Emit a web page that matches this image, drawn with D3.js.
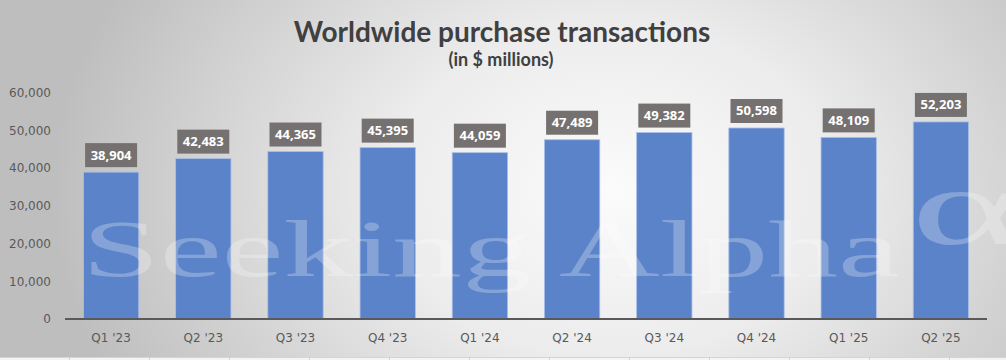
<!DOCTYPE html>
<html><head><meta charset="utf-8">
<script src="https://cdn.jsdelivr.net/npm/d3@7/dist/d3.min.js"></script>
<style>html,body{margin:0;padding:0;overflow:hidden;background:#fff}</style>
</head><body>
<svg id="c" width="1006" height="360"></svg>
<script>
const categories = ["Q1 '23","Q2 '23","Q3 '23","Q4 '23","Q1 '24","Q2 '24","Q3 '24","Q4 '24","Q1 '25","Q2 '25"];
const values = [38904,42483,44365,45395,44059,47489,49382,50598,48109,52203];
const yTicks = [0,10000,20000,30000,40000,50000,60000];
const title = "Worldwide purchase transactions";
const subtitle = "(in $ millions)";

const W = 1006, H = 360;
const svg = d3.select("#c");
const defs = svg.append("defs");
const g = defs.append("radialGradient").attr("id","bg")
  .attr("gradientUnits","userSpaceOnUse").attr("cx",610).attr("cy",190).attr("r",560)
  .attr("gradientTransform","translate(610,190) scale(1,0.75) translate(-610,-190)");
g.append("stop").attr("offset","0").attr("stop-color","#fbfbfb");
g.append("stop").attr("offset","0.4").attr("stop-color","#ececec");
g.append("stop").attr("offset","1").attr("stop-color","#bebebe");
svg.append("rect").attr("width",W).attr("height",H).attr("fill","url(#bg)");

// bottom strip (sheet grid remnants)
svg.append("rect").attr("x",0).attr("y",357).attr("width",W).attr("height",3).attr("fill","#f4f4f4");
svg.append("line").attr("x1",0).attr("x2",W).attr("y1",357.5).attr("y2",357.5).attr("stroke","#d4d4d4");
d3.range(69, W, 80).forEach(x=>{
  svg.append("line").attr("x1",x+0.5).attr("x2",x+0.5).attr("y1",357).attr("y2",360).attr("stroke","#d4d4d4");
});

const x = d3.scaleBand().domain(categories).range([65,987]).paddingInner(0.4).paddingOuter(0.2);
const y = d3.scaleLinear().domain([0,60000]).range([319,92.5]);

// bars
svg.append("g").selectAll("rect").data(values).join("rect")
  .attr("x",(d,i)=>x(categories[i])).attr("width",x.bandwidth())
  .attr("y",d=>y(d)).attr("height",d=>y(0)-y(d))
  .attr("fill","#5b83c9").attr("stroke","#a9bfe6").attr("stroke-width",0.8);

// watermark
const wm = svg.append("g").attr("fill","#ffffff").attr("fill-opacity",0.26)
  .attr("font-family","Liberation Serif, DejaVu Serif, serif");
wm.append("text").attr("x",82).attr("y",276).attr("font-size",80)
  .attr("textLength",818).attr("lengthAdjust","spacingAndGlyphs").text("Seeking Alpha");
wm.append("text").attr("x",911).attr("y",244).attr("font-size",110)
  .attr("textLength",112).attr("lengthAdjust","spacingAndGlyphs").text("α");

// y axis
const ya = svg.append("g").attr("transform","translate(51,0)")
  .call(d3.axisLeft(y).tickValues(yTicks).tickSize(0).tickPadding(0).tickFormat(d3.format(",")));
ya.select(".domain").remove();
ya.selectAll("text").attr("font-family","DejaVu Sans, sans-serif").attr("font-size",12).attr("fill","#595959");

// x axis
const xa = svg.append("g").attr("transform","translate(0,319)")
  .call(d3.axisBottom(x).tickSize(0).tickPadding(14));
xa.select(".domain").attr("stroke","#595959").attr("stroke-width",2).attr("d","M65,0H987");
xa.selectAll("text").attr("font-family","DejaVu Sans, sans-serif").attr("font-size",12).attr("fill","#595959");

// labels
const lab = svg.append("g").selectAll("g").data(values).join("g")
  .attr("transform",(d,i)=>`translate(${x(categories[i])+x.bandwidth()/2},${y(d)-5})`);
lab.append("rect").attr("x",-26).attr("y",-24).attr("width",52).attr("height",24).attr("fill","#767171");
lab.append("text").attr("text-anchor","middle").attr("y",-7.5)
  .attr("font-family","Open Sans, sans-serif").attr("font-weight","bold").attr("font-size",13)
  .attr("fill","#ffffff").text(d=>d3.format(",")(d));

// titles
svg.append("text").attr("x",502).attr("y",42).attr("text-anchor","middle")
  .attr("font-family","Lato, Open Sans, sans-serif").attr("font-weight","bold").attr("font-size",28)
  .attr("fill","#404040").text(title);
svg.append("text").attr("x",501).attr("y",66).attr("text-anchor","middle")
  .attr("font-family","Lato, Open Sans, sans-serif").attr("font-weight","bold").attr("font-size",18)
  .attr("fill","#404040").text(subtitle);
</script>
</body></html>
